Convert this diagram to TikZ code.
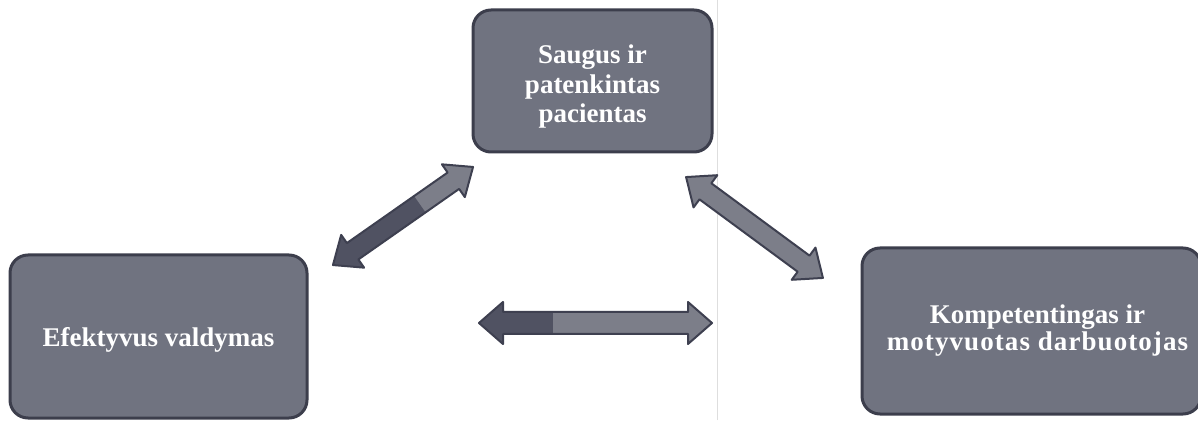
\documentclass[tikz,border=0pt]{standalone}
\usepackage{fontspec}
\setmainfont{Liberation Serif}
\definecolor{boxfill}{RGB}{112,115,128}
\definecolor{boxline}{RGB}{60,62,76}
\definecolor{arrlight}{RGB}{124,126,137}
\definecolor{arrdark}{RGB}{80,82,98}
\definecolor{arrline}{RGB}{62,64,80}
\definecolor{scanline}{RGB}{222,222,222}
\tikzset{
  box/.style={draw=boxline, line width=3pt, fill=boxfill, rounded corners=18pt, inner sep=0pt},
  boxtext/.style={text=white, align=center, inner sep=0pt,
    font=\bfseries\fontsize{27}{29.5}\selectfont},
  arrowoutline/.style={draw=arrline, line width=2pt, line join=round},
}
% #1 centre, #2 angle, #3 half length, #4 split x (dark part left of it), #5 shaft half width, #6 head half width
\newcommand{\blockarrow}[6]{%
  \begin{scope}[shift={#1}, rotate=#2]
    \def\arrpath{(-#3,0) -- (-#3+24,#6) -- (-#3+24,#5) -- (#3-24,#5) -- (#3-24,#6) -- (#3,0) -- (#3-24,-#6) -- (#3-24,-#5) -- (-#3+24,-#5) -- (-#3+24,-#6) -- cycle}
    \fill[arrlight] \arrpath;
    \begin{scope}
      \clip \arrpath;
      \fill[arrdark] (-#3-5,-40) rectangle (#4,40);
    \end{scope}
    \draw[arrowoutline] \arrpath;
  \end{scope}}
\begin{document}
\begin{tikzpicture}[x=1pt,y=1pt]
  \useasboundingbox (0,0) rectangle (1198,420);
  \fill[white] (0,0) rectangle (1198,420);
  \draw[scanline, line width=1pt] (717,0) -- (717,420);

  \node[box, minimum width=239pt, minimum height=142pt] (patient) at (592.5,339) {};
  \node[boxtext] (patienttext) at ([yshift=-6pt]patient.center)
    {Saugus ir\\patenkintas\\pacientas};

  \node[box, minimum width=297pt, minimum height=163pt] (manage) at (158.5,83.5) {};
  \node[boxtext] (managetext) at ([yshift=-3pt]manage.center) {Efektyvus valdymas};

  \node[box, minimum width=339pt, minimum height=166pt] (staff) at (1031.5,89) {};
  \node[boxtext, font=\bfseries\fontsize{27}{27}\selectfont] (stafftext) at ([xshift=6pt]staff.center)
    {Kompetentingas ir\\{\addfontfeature{LetterSpace=4}motyvuotas darbuotojas}};

  \blockarrow{(403,204)}{35}{85.5}{20.5}{10}{20}
  \blockarrow{(754.5,192.5)}{-36.4}{85}{-200}{10}{20}
  \blockarrow{(595.5,97)}{0}{116.5}{-42.5}{11}{21}
\end{tikzpicture}
\end{document}
